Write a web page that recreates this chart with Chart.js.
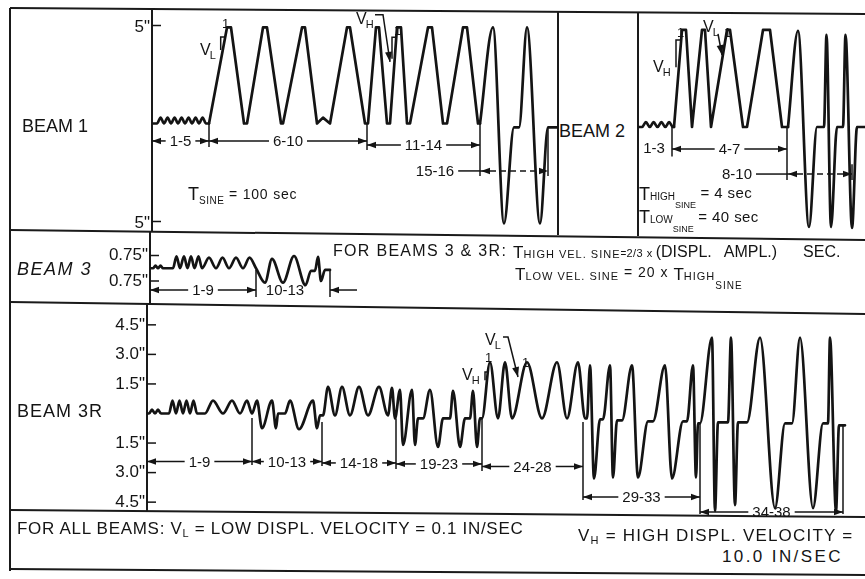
<!DOCTYPE html>
<html><head><meta charset="utf-8">
<script src="https://cdn.jsdelivr.net/npm/chart.js@4.4.1/dist/chart.umd.min.js"></script>
<style>
html,body{margin:0;padding:0;background:#fff;}
#page{position:relative;width:865px;height:579px;overflow:hidden;background:#fff;font-family:"Liberation Sans",Arial,sans-serif;color:#141414;}
.c{position:absolute;}
.t{position:absolute;white-space:nowrap;line-height:1;}
.s{position:relative;}
</style></head><body><div id="page">
<svg width="865" height="579" style="position:absolute;left:0;top:0" stroke="#1a1a1a" stroke-width="2" fill="none">
<line x1="10" y1="8" x2="865" y2="14"/>
<line x1="10" y1="8" x2="10" y2="571"/>
<line x1="152" y1="9" x2="152" y2="231"/>
<line x1="558" y1="11" x2="558" y2="235"/>
<line x1="638" y1="12" x2="638" y2="236"/>
<line x1="10" y1="230" x2="865" y2="240"/>
<line x1="150" y1="231" x2="150" y2="303"/>
<line x1="10" y1="302" x2="865" y2="314"/>
<line x1="147" y1="303" x2="147" y2="511"/>
<line x1="10" y1="510" x2="865" y2="517"/>
<line x1="10" y1="569" x2="865" y2="575"/>
</svg>
<div class="c" style="left:80px;top:8px;"><canvas id="b1" width="478" height="224"></canvas></div>
<div class="c" style="left:638px;top:8px;"><canvas id="b2" width="227" height="228"></canvas></div>
<div class="c" style="left:80px;top:231px;"><canvas id="b3" width="360" height="71"></canvas></div>
<div class="c" style="left:80px;top:300px;"><canvas id="b3r" width="785" height="222"></canvas></div>

<div class="t" style="left:22px;top:117px;font-size:18px">BEAM 1</div>
<div class="t" style="left:188px;top:185px;font-size:18px">T<span class="s" style="font-size:10px;top:4px;letter-spacing:0.5px">SINE</span><span class="s" style="font-size:14px;top:-1px;letter-spacing:0.8px"> = 100 sec</span></div>
<div class="t" style="left:559px;top:122px;font-size:18px">BEAM 2</div>
<div class="t" style="left:639px;top:185px;font-size:18px">T<span class="s" style="font-size:10px">HIGH</span><span class="s" style="font-size:9px;top:8px">SINE</span><span class="s" style="font-size:15px;top:-2px;letter-spacing:0.4px"> = 4 sec</span></div>
<div class="t" style="left:639px;top:208px;font-size:18px">T<span class="s" style="font-size:10px">LOW</span><span class="s" style="font-size:9px;top:9px">SINE</span><span class="s" style="font-size:15px;top:-1px;letter-spacing:0.4px"> = 40 sec</span></div>
<div class="t" style="left:17px;top:260px;font-size:18px;font-style:italic;letter-spacing:1.5px">BEAM 3</div>
<div class="t" style="left:333px;top:243px;font-size:16px;letter-spacing:1.3px">FOR BEAMS 3 &amp; 3R:</div>
<div class="t" style="left:513px;top:244px;font-size:17px">T<span class="s" style="font-size:11px;letter-spacing:1px">HIGH VEL. SINE</span><span class="s" style="font-size:10px;top:-1px">=</span><span class="s" style="font-size:11px;top:-1px;letter-spacing:0.5px">2/3 x</span><span class="s" style="font-size:16px;top:-1px;margin-left:3px">(DISPL.</span><span class="s" style="font-size:16px;top:-1px;margin-left:12px">AMPL.)</span><span class="s" style="font-size:16px;top:-1px;margin-left:26px">SEC.</span></div>
<div class="t" style="left:515px;top:266px;font-size:17px">T<span class="s" style="font-size:11px;letter-spacing:1px">LOW VEL. SINE</span><span class="s" style="font-size:14px;top:-3px;letter-spacing:1px"> = 20 x </span>T<span class="s" style="font-size:11px;letter-spacing:1px">HIGH</span><span class="s" style="font-size:10px;top:9px;letter-spacing:1px">SINE</span></div>
<div class="t" style="left:17px;top:402px;font-size:18px;letter-spacing:1px">BEAM 3R</div>
<div class="t" style="left:17px;top:520px;font-size:17px;letter-spacing:0.7px">FOR ALL BEAMS: V<span class="s" style="font-size:11px;top:3px">L</span> = LOW DISPL. VELOCITY = 0.1 IN/SEC</div>
<div class="t" style="left:578px;top:527px;font-size:17px;letter-spacing:1.2px">V<span class="s" style="font-size:11px;top:3px">H</span> = HIGH DISPL. VELOCITY =</div>
<div class="t" style="left:722px;top:548px;font-size:17px;letter-spacing:2.4px">10.0 IN/SEC</div>
</div>
<script>
// ================= DATA (time units, displacement in inches) =================
// Beam 1
const beam1TickValues = [5, -5];
const beam1Ripple = [[0,0],[5,0],[8.6,0.3],[12,0],[15.6,0.3],[19,0],[22.6,0.3],[26,0],[29.6,0.3],[33,0],[36.6,0.3],[40,0],[43.6,0.3],[47,0],[50.6,0.3],[54,0],[57,0]];
const beam1Ramps = [[57,0],[75,4.9],[79,4.9],[92,0],[95,0],[111,4.9],[115,4.9],[129,0],[131,0],[150,4.9],[153,4.9],[165,0],[171,0.3],[178,0],[195,4.9],[198,4.9],[213,0],[216,0],[224,4.9],[227,4.9],[235,0],[238,0],[245,4.9],[249,4.9],[255,0],[258,0],[276,4.9],[280,4.9],[291,0],[295,0],[311,4.9],[315,4.9],[326,0],[328,0]];
const beam1Sines = [[328,0],[341,4.9],[352,-5.1],[362,-0.2],[367,-0.2],[375,4.9],[388,-5.1],[396,-0.2],[406,-0.2]];
const beam1Groups = ['1-5','6-10','11-14','15-16'];
const beam1GroupStart = [0,57,215,328];
const beam1GroupEnd = [57,215,328,396];
// Beam 2
const beam2Ripple = [[0,0],[4,0],[7.9,0.25],[11.8,0],[15.6,0.25],[19.5,0],[23.4,0.25],[27.3,0],[31.1,0.25],[35,0],[36,0]];
const beam2Ramps = [[36,0],[44,4.95],[48,4.95],[54,0],[64,4.95],[67,4.95],[73,0],[89,4.95],[92,4.95],[105,0],[109,0],[125,4.95],[132,4.95],[144,0],[150,0]];
const beam2Sines = [[150,0],[160,4.9],[171,-5.1],[179,0],[186,0],[188.5,4.7],[193,-5.1],[199,0],[205,0],[207.5,4.7],[214,-5.15],[219,0],[227,0]];
const beam2Groups = ['1-3','4-7','8-10'];
const beam2GroupStart = [0,34,149];
const beam2GroupEnd = [34,149,214];
// Beam 3
const beam3TickValues = [0.75, -0.75];
const beam3Tests1to9 = [[0,0],[3,0],[5.5,0.15],[8,0],[10.5,0.15],[13,0],[23,0],[26.5,0.7],[30,0],[34,0.7],[37.5,0],[41,0.7],[44.5,0],[48.5,0.7],[52,0],[59,0.62],[66,0],[72.5,0.62],[79,0],[86,0.62],[93,0],[99.5,0.62],[106,0]];
const beam3Tests10to13 = [[115,-0.85],[122,0.55],[133,-0.85],[144,0.72],[155.5,-1.0],[161,-0.15],[165,-0.15],[168,0.67],[171,-0.75],[175,-0.1],[180,-0.1]];
const beam3Groups = ['1-9','10-13'];
const beam3GroupStart = [0,106];
const beam3GroupEnd = [106,180];
// Beam 3R
const beam3RTickValues = [4.5, 3.0, 1.5, -1.5, -3.0, -4.5];
const beam3R_1to9 = [[0,0],[2,0],[5,0.2],[8,0],[11,0.2],[14,0],[22,0],[25.5,0.65],[29,0],[32.5,0.65],[36,0],[39.5,0.65],[43,0],[46.5,0.65],[50,0],[58,0],[66,0.65],[76,0],[85,0.65],[93,0],[100,0.65],[105,0]];
const beam3R_10to13 = [[110,0.65],[115,-0.75],[125,0.65],[129,-0.75],[131,0],[138,0],[143,0.65],[152,-0.8],[166,0.65],[170,-0.75],[173,-0.1],[176,-0.1]];
const beam3R_14to18 = [[181,1.35],[188,-0.1],[195,1.35],[203,-0.1],[212,1.35],[221,-0.1],[232,1.35],[241,-0.1],[245,1.3],[248,-0.25]];
const beam3R_19to23 = [[253,1.2],[256,-1.6],[265,1.2],[268,-1.6],[271,-0.25],[276,-0.25],[283,1.2],[291,-1.7],[296,-0.25],[303,-0.25],[306,1.15],[313,-1.7],[318,-0.25],[323,-0.25],[326,1.15],[330,-1.7],[333,-0.25],[335,-0.25]];
const beam3R_24to28 = [[343,2.6],[351,-0.25],[358,2.6],[365,-0.25],[380,2.6],[395,-0.25],[410,2.6],[420,-0.25],[431,2.6],[438,-0.25]];
const beam3R_29to33 = [[440,-0.25],[443,2.45],[447,-3.3],[453,-0.3],[456,-0.3],[463,2.45],[466,-3.25],[470,-0.35],[475,-0.35],[485,2.45],[491,-3.25],[501,-0.4],[506,-0.4],[518,2.45],[525,-3.3],[536,-0.4],[540,-0.4],[546,2.45],[549,-3.25],[551,-0.5],[553,-0.5]];
const beam3R_34to38 = [[565,3.85],[568,-4.95],[571,-0.45],[581,-0.45],[584,3.85],[588,-4.65],[591,-0.45],[600,-0.45],[613,3.85],[628,-4.8],[638,-0.5],[645,-0.5],[653,3.85],[666,-4.8],[676,-0.5],[681,-0.5],[683,3.85],[689,-4.95],[692,-0.6],[698,-0.6]];
const beam3RGroups = ['1-9','10-13','14-18','19-23','24-28','29-33','34-38'];
const beam3RGroupStart = [0,105,175,249,335,436,553];
const beam3RGroupEnd = [105,175,249,335,436,553,696];

// ================= DRAWING =================
const INK = '#141414';
const FONT = '"Liberation Sans", Arial, sans-serif';
Chart.defaults.font.family = FONT;
Chart.defaults.color = INK;

function pts(arr){ return arr.map(p => ({x:p[0], y:p[1]})); }
function seg(ctx,x1,y1,x2,y2){ ctx.beginPath(); ctx.moveTo(x1,y1); ctx.lineTo(x2,y2); ctx.stroke(); }
function head(ctx,x,y,dir){ ctx.beginPath(); ctx.moveTo(x,y); ctx.lineTo(x-dir*9,y-3.2); ctx.lineTo(x-dir*9,y+3.2); ctx.closePath(); ctx.fill(); }
function arrowTo(ctx,x0,y0,x1,y1){
  const a = Math.atan2(y1-y0,x1-x0), L=10, W=3.5;
  ctx.beginPath(); ctx.moveTo(x1,y1);
  ctx.lineTo(x1-L*Math.cos(a)+W*Math.sin(a), y1-L*Math.sin(a)-W*Math.cos(a));
  ctx.lineTo(x1-L*Math.cos(a)-W*Math.sin(a), y1-L*Math.sin(a)+W*Math.cos(a));
  ctx.closePath(); ctx.fill();
}

function ink(cfg){
  return { id:'ink', afterDraw(chart){
    const ctx = chart.ctx, xs = chart.scales.x, ys = chart.scales.y, ca = chart.chartArea;
    const X = t => xs.getPixelForValue(t), Y = v => ys.getPixelForValue(v);
    ctx.save();
    ctx.strokeStyle = INK; ctx.fillStyle = INK; ctx.lineWidth = 1.5;
    if (cfg.ticks) ys.ticks.forEach(k => seg(ctx, ca.left, Y(k.value), ca.left+9, Y(k.value)));
    (cfg.ext||[]).forEach(e => seg(ctx, X(e[0]), Y(e[1]), X(e[0]), Y(e[2])));
    ctx.font = '15px ' + FONT; ctx.textBaseline = 'middle'; ctx.textAlign = 'center';
    cfg.groups.forEach((g,i) => {
      const st = cfg.style[i], a = X(cfg.start[i]), b = X(cfg.end[i]), y = Y(st.v);
      const mode = st.mode || 'inner';
      const cx = st.lt !== undefined ? X(st.lt) : (a+b)/2;
      const w = ctx.measureText(g).width;
      ctx.fillText(g, cx, y+1);
      if (mode === 'inner') {
        seg(ctx, a, y, cx-w/2-4, y); seg(ctx, cx+w/2+4, y, b, y);
        head(ctx, a, y, -1); head(ctx, b, y, 1);
      } else if (mode === 'left') {
        seg(ctx, cx+w/2+4, y, a, y);
        ctx.setLineDash([6,4]); seg(ctx, a, y, b, y); ctx.setLineDash([]);
        head(ctx, a+1, y, -1); head(ctx, b, y, 1);
      } else if (mode === 'out') {
        seg(ctx, b, y, b+27, y); head(ctx, b, y, -1);
      }
    });
    (cfg.notes||[]).forEach(n => {
      if (n.pts) {
        ctx.beginPath();
        n.pts.forEach((p,j) => { const x = X(p[0]), y = Y(p[1]); j ? ctx.lineTo(x,y) : ctx.moveTo(x,y); });
        ctx.stroke();
        if (n.arrow) { const p = n.pts[n.pts.length-1], q = n.pts[n.pts.length-2]; arrowTo(ctx, X(q[0]), Y(q[1]), X(p[0]), Y(p[1])); }
      } else {
        ctx.textAlign = 'left'; ctx.textBaseline = 'alphabetic';
        ctx.font = (n.size||16) + 'px ' + FONT;
        ctx.fillText(n.txt, X(n.t), Y(n.v));
        if (n.sub) { const w = ctx.measureText(n.txt).width; ctx.font = '11px ' + FONT; ctx.fillText(n.sub, X(n.t)+w-1, Y(n.v)+4); }
      }
    });
    ctx.restore();
  }};
}

function build(id, sets, o){
  const datasets = sets.map(d => ({
    data: pts(d.data), borderColor: INK, borderWidth: 2.7, pointRadius: 0, pointHoverRadius: 0,
    fill: false, showLine: true, tension: 0,
    cubicInterpolationMode: d.smooth ? 'monotone' : 'default',
    borderJoinStyle: 'round', borderCapStyle: 'round'
  }));
  return new Chart(document.getElementById(id), {
    type: 'scatter',
    data: { datasets },
    options: {
      responsive: false, animation: false, events: [],
      layout: { padding: 0 },
      plugins: { legend: { display: false }, tooltip: { enabled: false } },
      scales: {
        x: { type: 'linear', display: false, min: 0, max: o.xmax },
        y: {
          type: 'linear', display: !!o.ticks, position: 'left', min: o.ymin, max: o.ymax,
          afterFit: s => { s.width = o.axisW || 0; s.paddingTop = 0; s.paddingBottom = 0; },
          afterBuildTicks: s => { if (o.ticks) s.ticks = o.ticks.map(v => ({ value: v })); },
          ticks: { callback: v => Math.abs(v).toFixed(o.dec || 0) + '"', font: { size: 17, family: FONT }, color: INK, padding: 2, labelOffset: o.labelOffset || 0 },
          grid: { display: false, drawTicks: false, tickLength: 0 }, border: { display: false }
        }
      }
    },
    plugins: [ink(o.ink)]
  });
}

build('b1', [
  { data: beam1Ripple, smooth: true },
  { data: beam1Ramps, smooth: false },
  { data: beam1Sines, smooth: true }
], {
  xmax: 406, ymin: -5.536, ymax: 5.893, axisW: 72, ticks: beam1TickValues, dec: 0, labelOffset: 2,
  ink: {
    ticks: true,
    groups: beam1Groups, start: beam1GroupStart, end: beam1GroupEnd,
    style: [{v:-0.89},{v:-0.89},{v:-1.1},{v:-2.42, mode:'left', lt:283}],
    ext: [[57,0,-1.2],[215,0,-1.35],[328,0,-2.68],[396,-0.2,-2.68]],
    notes: [
      {txt:'V', sub:'L', t:48, v:3.5},
      {txt:'1', t:70, v:4.87, size:13},
      {pts:[[68.7,3.75],[68.7,4.41],[72,4.41]]},
      {txt:'V', sub:'H', t:204, v:5.1},
      {pts:[[223,5.55],[231,5.55],[238,3.14]], arrow:true},
      {txt:'1', t:242, v:4.5, size:13},
      {pts:[[240,3.3],[240,4.4],[245,4.4]]}
    ]
  }
});

build('b2', [
  { data: beam2Ripple, smooth: true },
  { data: beam2Ramps, smooth: false },
  { data: beam2Sines, smooth: true }
], {
  xmax: 227, ymin: -5.561, ymax: 6.071, axisW: 0, ticks: null,
  ink: {
    ticks: false,
    groups: beam2Groups, start: beam2GroupStart, end: beam2GroupEnd,
    style: [{v:-1.07, mode:'bare', lt:16},{v:-1.12},{v:-2.4, mode:'left', lt:99}],
    ext: [[34,0,-1.5],[149,0,-2.7],[214,-1.9,-2.7]],
    notes: [
      {txt:'V', sub:'H', t:15, v:2.8},
      {txt:'1', t:39, v:4.6, size:13},
      {pts:[[38,3.05],[38,4.44],[43,4.44]]},
      {txt:'V', sub:'L', t:65, v:4.85},
      {pts:[[80,4.75],[84,3.67]], arrow:true},
      {txt:'1', t:86, v:4.6, size:13}
    ]
  }
});

build('b3', [
  { data: beam3Tests1to9.concat(beam3Tests10to13), smooth: true }
], {
  xmax: 290, ymin: -1.985, ymax: 2.191, axisW: 70, ticks: beam3TickValues, dec: 2,
  ink: {
    ticks: true,
    groups: beam3Groups, start: beam3GroupStart, end: beam3GroupEnd,
    style: [{v:-1.28},{v:-1.28, mode:'out', lt:135}],
    ext: [[106,-0.1,-1.69],[180,-0.16,-1.69]]
  }
});

build('b3r', [
  { data: beam3R_1to9.concat(beam3R_10to13, beam3R_14to18, beam3R_19to23, beam3R_24to28, beam3R_29to33, beam3R_34to38), smooth: true }
], {
  xmax: 718, ymin: -5.508, ymax: 5.761, axisW: 67, ticks: beam3RTickValues, dec: 1,
  ink: {
    ticks: true,
    groups: beam3RGroups, start: beam3RGroupStart, end: beam3RGroupEnd,
    style: [{v:-2.44},{v:-2.44},{v:-2.51},{v:-2.56},{v:-2.69},{v:-4.24},{v:-5.0}],
    ext: [[105,-0.23,-2.61],[175,-0.43,-2.66],[249,-0.25,-2.82],[335,-0.18,-2.92],[436,-0.43,-4.39],[553,-0.48,-5.1],[696,-0.58,-5.1]],
    notes: [
      {txt:'V', sub:'H', t:315, v:1.7},
      {txt:'1', t:338, v:2.6, size:13},
      {pts:[[338,1.69],[338,2.1],[341,2.1]]},
      {txt:'V', sub:'L', t:338, v:3.48},
      {pts:[[356,3.88],[361,3.88],[371,1.85]], arrow:true},
      {txt:'1', t:375, v:2.36, size:13}
    ]
  }
});
</script>
</body></html>
